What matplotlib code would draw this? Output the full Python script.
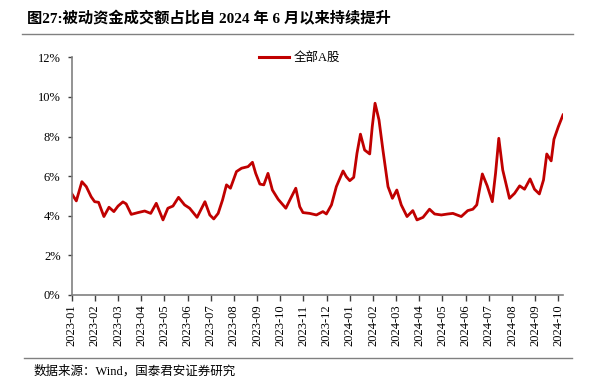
import matplotlib
matplotlib.use("Agg")
import matplotlib.pyplot as plt
from matplotlib.lines import Line2D

# month offset since 2023-01 (fractional) and share of passive funds in turnover (%)
months = [0.01, 0.20, 0.44, 0.63, 0.84, 0.99, 1.16, 1.39, 1.61, 1.82,
          2.00, 2.21, 2.35, 2.57, 2.86, 3.15, 3.41, 3.65, 3.94, 4.15,
          4.37, 4.61, 4.87, 5.09, 5.41, 5.75, 5.96, 6.13, 6.32, 6.51,
          6.68, 6.85, 7.11, 7.33, 7.61, 7.80, 7.94, 8.12, 8.29, 8.47,
          8.66, 8.91, 9.24, 9.45, 9.67, 9.84, 9.98, 10.27, 10.56, 10.84,
          10.99, 11.21, 11.42, 11.71, 11.85, 12.00, 12.17, 12.31, 12.46, 12.64,
          12.86, 12.97, 13.09, 13.26, 13.43, 13.65, 13.84, 14.03, 14.22, 14.47,
          14.72, 14.90, 15.16, 15.44, 15.66, 15.95, 16.23, 16.45, 16.81, 17.09,
          17.31, 17.48, 17.72, 17.93, 18.15, 18.29, 18.43, 18.60, 18.89, 19.11,
          19.33, 19.54, 19.78, 19.97, 20.18, 20.36, 20.50, 20.69, 20.81, 21.00,
          21.20]
share = [5.10, 4.75, 5.72, 5.47, 4.96, 4.71, 4.68, 3.96, 4.43, 4.21,
         4.49, 4.70, 4.60, 4.07, 4.16, 4.24, 4.12, 4.63, 3.79, 4.38,
         4.49, 4.93, 4.55, 4.38, 3.92, 4.71, 4.04, 3.84, 4.12, 4.80,
         5.56, 5.39, 6.23, 6.40, 6.48, 6.70, 6.14, 5.60, 5.56, 6.14,
         5.30, 4.83, 4.38, 4.88, 5.39, 4.46, 4.16, 4.12, 4.04, 4.21,
         4.09, 4.55, 5.47, 6.26, 5.97, 5.77, 5.94, 7.15, 8.12, 7.32,
         7.12, 8.50, 9.68, 8.84, 7.32, 5.47, 4.88, 5.30, 4.55, 3.96,
         4.26, 3.79, 3.92, 4.33, 4.09, 4.04, 4.09, 4.12, 3.96, 4.26,
         4.33, 4.55, 6.11, 5.51, 4.71, 6.14, 7.91, 6.31, 4.88, 5.13,
         5.51, 5.34, 5.86, 5.34, 5.10, 5.81, 7.12, 6.77, 7.86, 8.50,
         9.09]

tick_labels = ["2023-01", "2023-02", "2023-03", "2023-04", "2023-05", "2023-06",
               "2023-07", "2023-08", "2023-09", "2023-10", "2023-11", "2023-12",
               "2024-01", "2024-02", "2024-03", "2024-04", "2024-05", "2024-06",
               "2024-07", "2024-08", "2024-09", "2024-10"]
y_ticks = [0, 2, 4, 6, 8, 10, 12]

serif = ["Liberation Serif", "Noto Sans CJK SC"]
red = "#C00000"
grey = "#808080"

fig = plt.figure(figsize=(5.91, 3.90), dpi=100)
ax = fig.add_axes([0.1213, 0.2436, 0.8313, 0.6095])

ax.plot(months, share, color=red, lw=2.0, solid_joinstyle="round")

ax.set_xlim(0, 21.2)
ax.set_ylim(0, 12)
ax.set_xticks(range(len(tick_labels)))
ax.set_xticklabels(tick_labels, rotation=90, family=serif, fontsize=9)
ax.set_yticks(y_ticks)
ax.set_yticklabels([f"{v}%" for v in y_ticks], family=serif, fontsize=9)

for s in ["top", "right"]:
    ax.spines[s].set_visible(False)
for s in ["left", "bottom"]:
    ax.spines[s].set_color(grey)
    ax.spines[s].set_linewidth(1.2)
ax.tick_params(axis="x", direction="out", length=4, width=1, color="#404040", pad=3)
ax.tick_params(axis="y", direction="out", length=3, width=1, color="#404040", pad=5)

handle = Line2D([], [], color=red, lw=2.2)
ax.legend([handle], ["全部A股"], loc="upper center", bbox_to_anchor=(0.464, 1.07),
          frameon=False, handlelength=2.4, handletextpad=0.4,
          prop={"family": serif, "size": 9})

fig.text(0.045, 0.953, "图27:被动资金成交额占比自 2024 年 6 月以来持续提升",
         family=serif, fontsize=11, fontweight="bold", va="center", ha="left")
fig.add_artist(Line2D([0.037, 0.969], [0.912, 0.912], color=grey, lw=1))
fig.add_artist(Line2D([0.040, 0.968], [0.082, 0.082], color=grey, lw=1))
fig.text(0.056, 0.047, "数据来源：Wind，国泰君安证券研究",
         family=serif, fontsize=9, va="center", ha="left")

fig.savefig("out.png", dpi=100)
